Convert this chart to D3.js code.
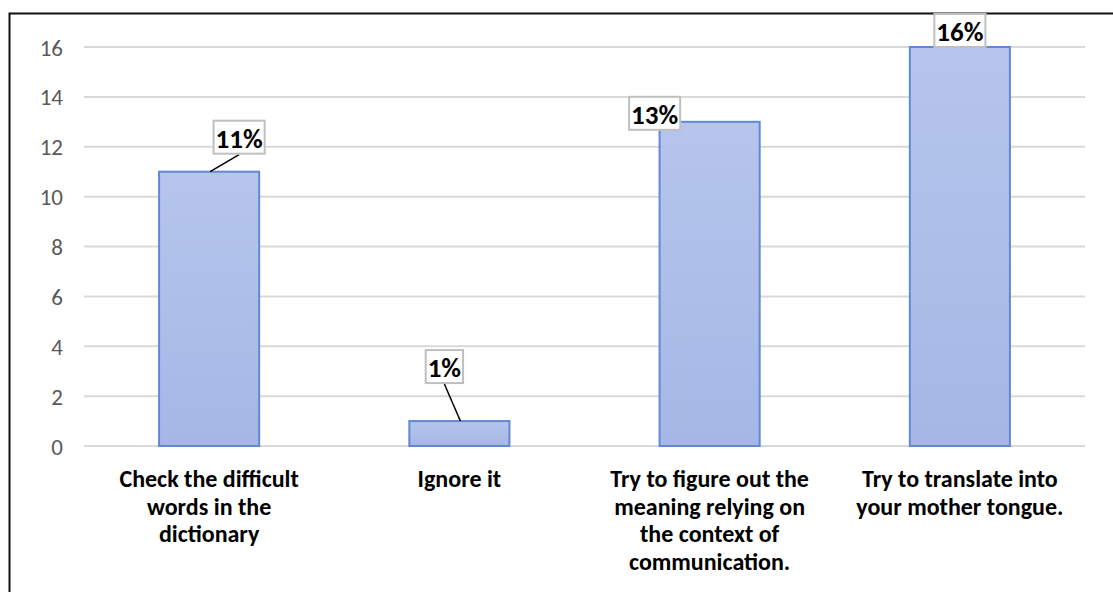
<!DOCTYPE html>
<html>
<head>
<meta charset="utf-8">
<script src="https://cdn.jsdelivr.net/npm/d3@7"></script>
<style>
  html, body { margin: 0; padding: 0; background: #fff; }
  svg { display: block; }
  text { font-family: Carlito, Lato, "Liberation Sans", sans-serif; }
</style>
</head>
<body>
<svg id="chart" width="1113" height="592"></svg>
<script>
// Responses to "What do you do when you meet unfamiliar words?"
const categories = [
  "Check the difficult\nwords in the\ndictionary",
  "Ignore it",
  "Try to figure out the\nmeaning relying on\nthe context of\ncommunication.",
  "Try to translate into\nyour mother tongue."
];
const values = [11, 1, 13, 16];
const valueLabels = ["11%", "1%", "13%", "16%"];
const yTicks = [0, 2, 4, 6, 8, 10, 12, 14, 16];

// Placement of each value label relative to its bar (dx from bar centre, dy of box bottom from bar top)
const labelPlacement = [
  { dx: 30, dy: -18, leader: true },
  { dx: -15, dy: -38, leader: true },
  { dx: -55, dy: 8, leader: false },
  { dx: 0, dy: 0, leader: false }
];

const W = 1113, H = 592;
const plot = { left: 84, right: 1085, top: 47, bottom: 446 };

const svg = d3.select("#chart");

const defs = svg.append("defs");
const grad = defs.append("linearGradient")
  .attr("id", "barFill").attr("x1", 0).attr("y1", 0).attr("x2", 0).attr("y2", 1);
grad.append("stop").attr("offset", "0%").attr("stop-color", "#b5c5ec");
grad.append("stop").attr("offset", "100%").attr("stop-color", "#a6b7e5");

const x = d3.scaleBand()
  .domain(d3.range(categories.length))
  .range([plot.left, plot.right])
  .paddingInner(0.6)
  .paddingOuter(0.3);

const y = d3.scaleLinear()
  .domain([0, 16])
  .range([plot.bottom, plot.top]);

// Outer frame (left and top edges visible)
svg.append("rect")
  .attr("x", 9.5).attr("y", 13.5)
  .attr("width", W + 10).attr("height", H + 10)
  .attr("fill", "none").attr("stroke", "#111").attr("stroke-width", 2);

// Gridlines
svg.append("g").selectAll("line")
  .data(yTicks)
  .join("line")
  .attr("x1", plot.left).attr("x2", plot.right)
  .attr("y1", d => y(d)).attr("y2", d => y(d))
  .attr("stroke", "#d9d9d9").attr("stroke-width", 2);

// Y axis labels
const yAxis = d3.axisLeft(y).tickValues(yTicks).tickSize(0).tickPadding(0);
const yg = svg.append("g").attr("transform", `translate(63,0)`).call(yAxis);
yg.select(".domain").remove();
yg.selectAll("text")
  .attr("fill", "#595959")
  .attr("font-size", 23)
  .attr("dy", "0.35em")
  .style("font-family", "Carlito, Lato, 'Liberation Sans', sans-serif");

// Bars
svg.append("g").selectAll("rect")
  .data(values)
  .join("rect")
  .attr("x", (d, i) => x(i))
  .attr("y", d => y(d))
  .attr("width", x.bandwidth())
  .attr("height", d => y(0) - y(d))
  .attr("fill", "url(#barFill)")
  .attr("stroke", "#6188d6")
  .attr("stroke-width", 2);

// Category labels
const cat = svg.append("g").selectAll("text")
  .data(categories)
  .join("text")
  .attr("x", (d, i) => x(i) + x.bandwidth() / 2)
  .attr("y", 487)
  .attr("text-anchor", "middle")
  .attr("font-size", 24)
  .attr("font-weight", "bold")
  .attr("fill", "#000");
cat.each(function (d) {
  const t = d3.select(this);
  d.split("\n").forEach((line, k) => {
    t.append("tspan")
      .attr("x", t.attr("x"))
      .attr("dy", k === 0 ? 0 : 27.7)
      .text(line);
  });
});

// Value labels with boxes and leader lines
const lab = svg.append("g").selectAll("g")
  .data(values)
  .join("g");

lab.each(function (v, i) {
  const g = d3.select(this);
  const p = labelPlacement[i];
  const cx = x(i) + x.bandwidth() / 2;
  const barTop = y(v);
  const boxBottom = barTop + p.dy;
  const boxH = 33;
  const lx = cx + p.dx;

  if (p.leader) {
    g.append("line")
      .attr("x1", lx).attr("y1", boxBottom + 1)
      .attr("x2", cx + 1).attr("y2", barTop)
      .attr("stroke", "#000").attr("stroke-width", 1.5);
  }
  const rect = g.append("rect")
    .attr("fill", "#fff")
    .attr("stroke", "#bfbfbf")
    .attr("stroke-width", 2);
  const txt = g.append("text")
    .attr("x", lx)
    .attr("y", boxBottom - 6)
    .attr("text-anchor", "middle")
    .attr("font-size", 27)
    .attr("font-weight", "bold")
    .attr("fill", "#000")
    .text(valueLabels[i]);
  const w = txt.node().getComputedTextLength() + 4;
  rect.attr("x", lx - w / 2).attr("y", boxBottom - boxH)
    .attr("width", w).attr("height", boxH);
});
</script>
</body>
</html>
